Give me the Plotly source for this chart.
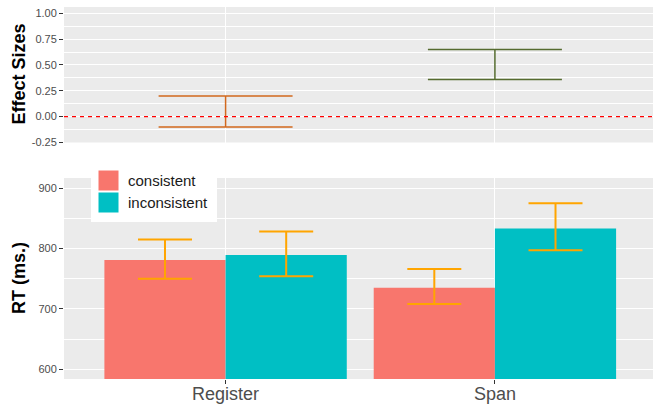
import plotly.graph_objects as go

# ---- data ----
conditions = ["Register", "Span"]
groups = ["consistent", "inconsistent"]
group_colors = ["#F8766D", "#00BFC4"]

rt_consistent = [781, 735]
rt_consistent_low = [750, 708]
rt_consistent_high = [815, 766]

rt_inconsistent = [789, 833]
rt_inconsistent_low = [754, 797]
rt_inconsistent_high = [828, 875]

effect_low = [-0.10, 0.36]
effect_high = [0.20, 0.65]
effect_colors = ["#D2691E", "#556B2F"]

effect_ticks = [-0.25, 0.0, 0.25, 0.50, 0.75, 1.00]
effect_ticktext = ["-0.25", "0.00", "0.25", "0.50", "0.75", "1.00"]
rt_ticks = [600, 700, 800, 900]

# ---- canvas geometry (pixels) ----
W, H = 653, 405


def px_x(p):
    return p / W


def px_y(p):
    return 1 - p / H


panel_bg = "#EBEBEB"
tick_col = "#4D4D4D"
font_family = "Liberation Sans, Arial, sans-serif"

fig = go.Figure()

# ---- top panel: effect-size intervals ----
for i, cond in enumerate(conditions):
    centre = (effect_low[i] + effect_high[i]) / 2
    half = (effect_high[i] - effect_low[i]) / 2
    fig.add_trace(go.Scatter(
        x=[cond], y=[centre], mode="markers",
        marker=dict(size=1, opacity=0),
        error_y=dict(type="data", array=[half], symmetric=True,
                     color=effect_colors[i], thickness=1.5, width=67),
        xaxis="x", yaxis="y", showlegend=False, hoverinfo="skip",
    ))

# ---- bottom panel: RT bars with intervals ----
rt_means = [rt_consistent, rt_inconsistent]
rt_lows = [rt_consistent_low, rt_inconsistent_low]
rt_highs = [rt_consistent_high, rt_inconsistent_high]
for g, name in enumerate(groups):
    means = rt_means[g]
    fig.add_trace(go.Bar(
        x=conditions, y=means, name=name,
        marker=dict(color=group_colors[g], line=dict(width=0)),
        error_y=dict(type="data", symmetric=False,
                     array=[h - m for h, m in zip(rt_highs[g], means)],
                     arrayminus=[m - l for m, l in zip(means, rt_lows[g])],
                     color="#FFA500", thickness=2, width=27),
        xaxis="x2", yaxis="y2", showlegend=False,
    ))

x_range = [-0.6, 1.587]
x_domain = [px_x(64), 1]

common_y = dict(
    showline=False, zeroline=False, ticks="outside", ticklen=4,
    tickcolor="#333333", tickwidth=1, automargin=False,
    tickfont=dict(size=11, color=tick_col, family=font_family),
    showgrid=True, gridcolor="white", gridwidth=1.1,
)

fig.update_layout(
    width=W, height=H,
    margin=dict(l=0, r=0, t=0, b=0),
    paper_bgcolor="white", plot_bgcolor=panel_bg,
    font=dict(family=font_family),
    barmode="group", bargap=0.1, bargroupgap=0,
    showlegend=False,
    xaxis=dict(
        domain=x_domain, anchor="y", type="category", range=x_range,
        showticklabels=False, ticks="", showgrid=True, gridcolor="white",
        gridwidth=1.1, zeroline=False, showline=False, automargin=False,
    ),
    yaxis=dict(
        domain=[px_y(142.5), px_y(7)], anchor="x",
        range=[-0.2505, 1.061], tickvals=effect_ticks,
        ticktext=effect_ticktext,
        minor=dict(dtick=0.125, tick0=0, showgrid=True, gridcolor="white",
                   gridwidth=0.6, ticks=""),
        **common_y,
    ),
    xaxis2=dict(
        domain=x_domain, anchor="y2", type="category", range=x_range,
        ticks="outside", ticklen=4, tickcolor="#333333", automargin=False,
        ticklabelstandoff=-6,
        tickfont=dict(size=18, color=tick_col, family=font_family),
        showgrid=True, gridcolor="white", gridwidth=1.1,
        zeroline=False, showline=False,
    ),
    yaxis2=dict(
        domain=[px_y(379), px_y(178)], anchor="x2",
        range=[584, 916.6], tickvals=rt_ticks,
        minor=dict(dtick=50, tick0=0, showgrid=True, gridcolor="white",
                   gridwidth=0.6, ticks=""),
        **common_y,
    ),
)

# zero reference line in the effect-size panel
fig.add_shape(type="line", xref="x domain", yref="y", x0=0, x1=1, y0=0, y1=0,
              line=dict(color="red", width=1.2, dash="4px,4px"), layer="above")

# axis titles
fig.add_annotation(text="<b>Effect Sizes</b>", xref="paper", yref="paper",
                   x=px_x(18), y=px_y(74.5), textangle=-90, showarrow=False,
                   font=dict(size=18, color="black", family=font_family),
                   xanchor="center", yanchor="middle")
fig.add_annotation(text="<b>RT (ms.)</b>", xref="paper", yref="paper",
                   x=px_x(19), y=px_y(278), textangle=-90, showarrow=False,
                   font=dict(size=18, color="black", family=font_family),
                   xanchor="center", yanchor="middle")

# legend box drawn inside the RT panel
fig.add_shape(type="rect", xref="paper", yref="paper",
              x0=px_x(91), x1=px_x(217), y0=px_y(222), y1=px_y(168),
              fillcolor="white", line=dict(width=0), layer="above")
key_tops = [170, 192]
for g, name in enumerate(groups):
    top = key_tops[g]
    fig.add_shape(type="rect", xref="paper", yref="paper",
                  x0=px_x(98), x1=px_x(119), y0=px_y(top + 21), y1=px_y(top),
                  fillcolor=group_colors[g], line=dict(color="white", width=1),
                  layer="above")
    fig.add_annotation(text=name, xref="paper", yref="paper",
                       x=px_x(126), y=px_y(top + 10.5), showarrow=False,
                       xanchor="left", yanchor="middle",
                       font=dict(size=15, color="#1A1A1A", family=font_family))

fig.write_html("out.html")
